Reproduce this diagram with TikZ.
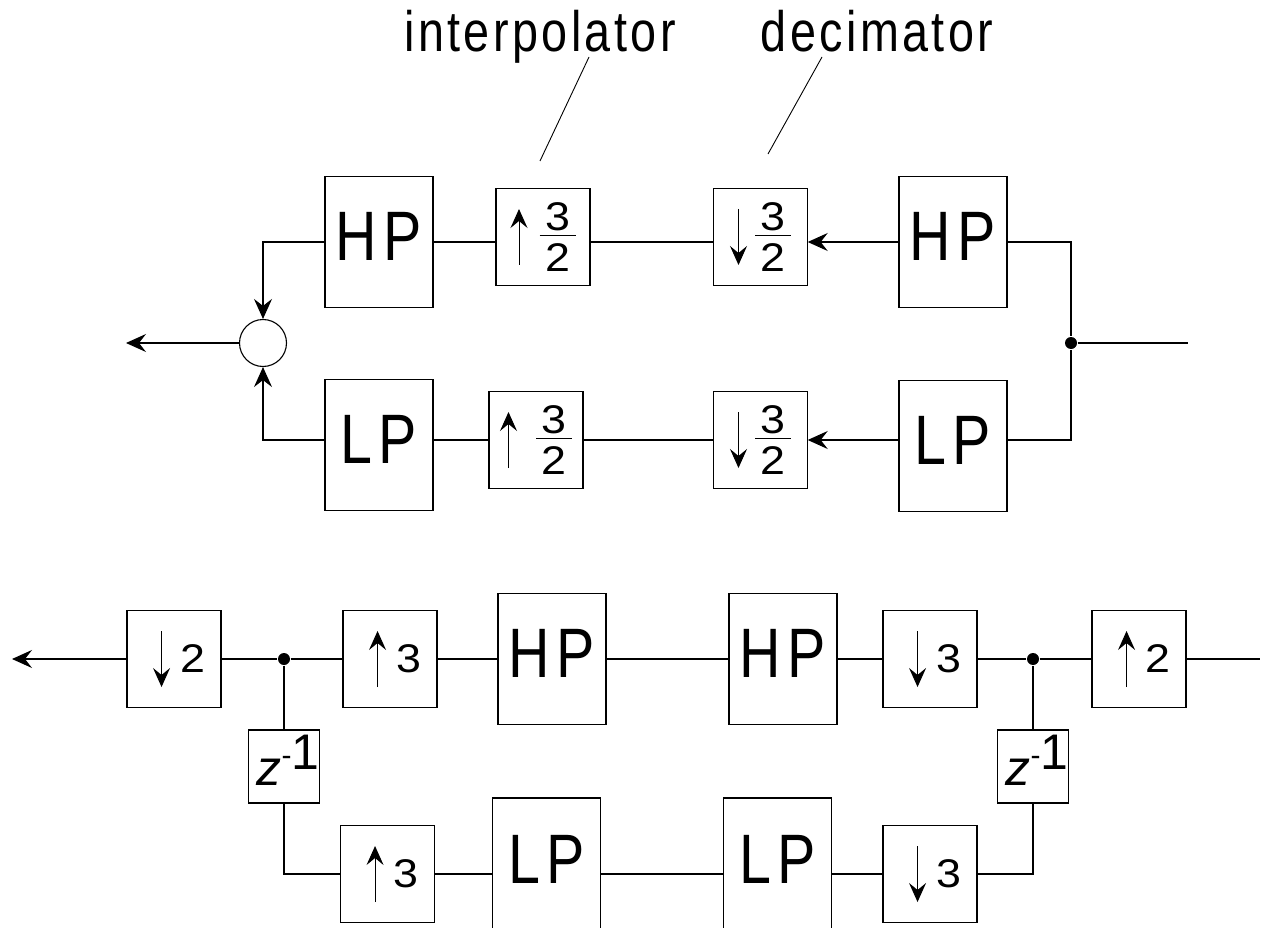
\documentclass[tikz,border=0pt]{standalone}
\usepackage{fontspec}
\usetikzlibrary{arrows.meta}

\newfontfamily\blockfont[FakeStretch=0.82,LetterSpace=9]{Liberation Sans}
\newfontfamily\notefont[FakeStretch=0.82,LetterSpace=6]{Liberation Sans}
\newfontfamily\ratefont[FakeStretch=1.12]{Liberation Sans}
\newfontfamily\delayfont{Liberation Sans}

\tikzset{ratetip/.style={-{Stealth[length=19pt,width=17pt,inset=7pt]}}}

% thin arrows for the rate changers
\newcommand{\rateup}{\vcenter{\hbox{\tikz\draw[line width=1pt,ratetip] (0pt,0pt) -- (0pt,56pt);}}}
\newcommand{\ratedown}{\vcenter{\hbox{\tikz\draw[line width=1pt,ratetip] (0pt,56pt) -- (0pt,0pt);}}}
% fraction with a short bar
\newcommand{\ratefrac}[2]{\vcenter{\hbox{\vbox{\hbox to 36pt{\hss#1\hss}\kern4pt\hrule height 1.3pt\kern8pt\hbox to 36pt{\hss#2\hss}}}}}
\newcommand{\upby}[1]{$\kern10pt\rateup\kern10pt\vcenter{\hbox{#1}}$}
\newcommand{\downby}[1]{$\kern10pt\ratedown\kern10pt\vcenter{\hbox{#1}}$}
\newcommand{\zinv}{\kern8pt{\itshape z}\raisebox{20pt}{\fontsize{30}{30}\selectfont -}\raisebox{16pt}{1}}

\begin{document}
\begin{tikzpicture}[
         x=1pt, y=-1pt,
         line width=1.1pt,
         block/.style={draw, inner sep=0pt, minimum width=108pt, minimum height=131pt,
                       font=\blockfont\fontsize{70}{70}\selectfont, text depth=12pt},
         rate/.style={draw, inner sep=0pt, minimum width=94pt, minimum height=97pt,
                      font=\ratefont\fontsize{40}{40}\selectfont},
         delay/.style={draw, inner sep=0pt, minimum width=70pt, minimum height=73pt,
                       font=\delayfont\fontsize{50}{50}\selectfont, text height=37pt, text depth=0pt},
         adder/.style={draw, circle, inner sep=0pt, minimum size=47pt},
         junction/.style={circle, fill, inner sep=0pt, minimum size=12pt},
         note/.style={font=\notefont\fontsize{57}{57}\selectfont, anchor=base},
         flow/.style={-{Stealth[length=20pt,width=18pt,inset=7pt]}}
      ]
         \useasboundingbox (0,0) rectangle (1264,928);

         % Labels
         \node[note] (interp) at (540,52) {interpolator};
         \node[note] (decim) at (877,52) {decimator};
         \coordinate (itail) at (589,57);
         \coordinate (ihead) at (540,161);
         \coordinate (dtail) at (822,57);
         \coordinate (dhead) at (768,154);
         \draw[line width=0.9pt] (itail) -- (ihead);
         \draw[line width=0.9pt] (dtail) -- (dhead);

         % Nodes for the upper bank
         \node[block] (hpL) at (379,242) {HP};
         \node[rate] (upA) at (543,237) {$\rateup\kern12pt\ratefrac{3}{2}$};
         \node[rate] (dnA) at (760.5,237) {$\ratedown\kern8pt\ratefrac{3}{2}$};
         \node[block] (hpR) at (953,242) {HP};
         \node[block] (lpL) at (379,445) {LP};
         \node[rate] (upB) at (536,440) {$\rateup\kern19pt\ratefrac{3}{2}$};
         \node[rate] (dnB) at (760.5,440) {$\ratedown\kern8pt\ratefrac{3}{2}$};
         \node[block] (lpR) at (953,446) {LP};
         \node[adder] (sum) at (263,343) {};
         \node[junction] (split) at (1071,343) {};
         \coordinate (out) at (126,343);
         \coordinate (in) at (1188,343);

         % Connectors of the upper bank
         \draw (hpL) -- (hpL -| upA.west);
         \draw (upA.east |- hpL) -- (dnA.west |- hpL);
         \draw[flow] (hpR) -- (hpR -| dnA.east);
         \draw (upB) -- (upB -| lpL.east);
         \draw (upB) -- (dnB);
         \draw[flow] (upB -| lpR.west) -- (dnB);
         \draw[flow] (hpL) -| (sum);
         \draw[flow] (lpL.west |- upB) -| (sum);
         \draw[flow] (sum) -- (out);
         \draw (hpR) -| (split);
         \draw (lpR.east |- upB) -| (split);
         \draw (split) -- (in);

         % Nodes for the lower chain
         \node[rate] (dn2) at (174,659) {\downby{2}};
         \node[junction] (dotL) at (284,659) {};
         \node[rate] (up3a) at (390,659) {\upby{3}};
         \node[block] (hpA) at (552,659) {HP};
         \node[block] (hpB) at (783,659) {HP};
         \node[rate] (dn3a) at (930,659) {\downby{3}};
         \node[junction] (dotR) at (1033,659) {};
         \node[rate] (up2) at (1139,659) {\upby{2}};
         \node[delay] (zL) at (284,766.5) {\zinv};
         \node[delay] (zR) at (1033,766.5) {\zinv};
         \node[rate] (up3b) at (387.5,874) {\upby{3}};
         \node[block, minimum height=134pt] (lpA) at (546.5,865) {LP};
         \node[block, minimum height=134pt] (lpB) at (777.5,865) {LP};
         \node[rate] (dn3b) at (930,874) {\downby{3}};
         \coordinate (out2) at (12,659);
         \coordinate (in2) at (1260,659);

         % Connectors of the lower chain
         \draw[flow] (dn2) -- (out2);
         \draw (dn2) -- (dotL) -- (up3a) -- (hpA) -- (hpB) -- (dn3a) -- (dotR) -- (up2) -- (in2);
         \draw (dotL) -- (zL);
         \draw (zL) |- (up3b);
         \draw (up3b) -- (up3b -| lpA.west);
         \draw (up3b -| lpA.east) -- (up3b -| lpB.west);
         \draw (up3b -| lpB.east) -- (dn3b);
         \draw (dn3b) -| (zR);
         \draw (zR) -- (dotR);
      \end{tikzpicture}
\end{document}
